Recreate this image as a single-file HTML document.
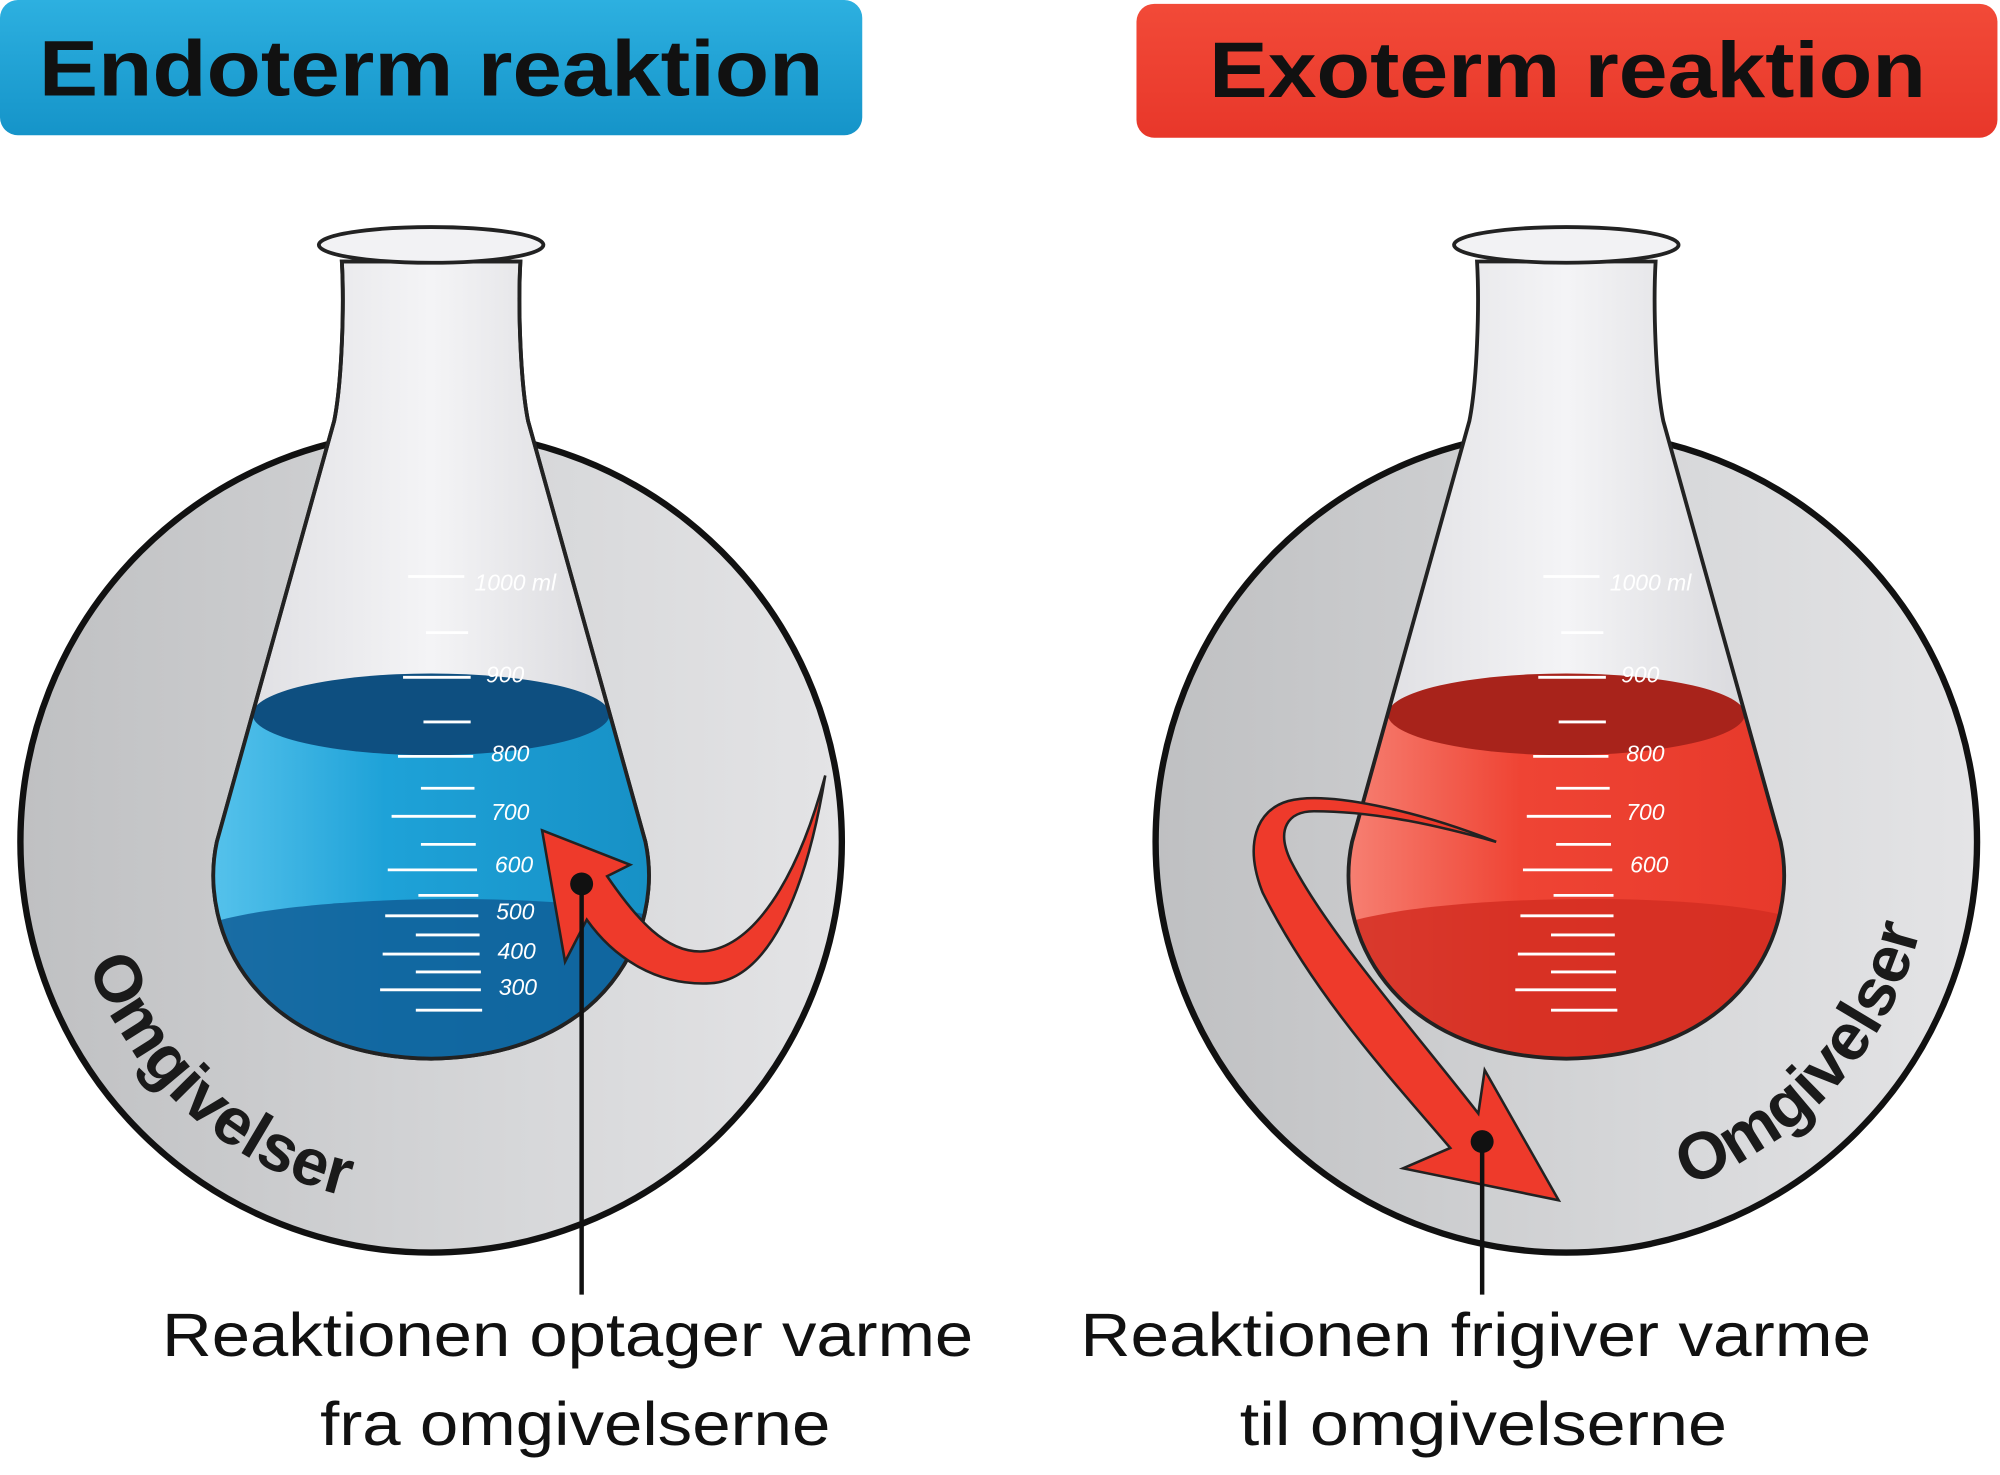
<!DOCTYPE html>
<html><head><meta charset="utf-8"><style>
html,body{margin:0;padding:0;background:#fff;}
svg{display:block;}
text{font-family:"Liberation Sans",sans-serif;}
</style></head><body>
<svg width="2000" height="1475" viewBox="0 0 1568 1156.4" xmlns="http://www.w3.org/2000/svg">
<defs>
<linearGradient id="bh" x1="0" y1="0" x2="0" y2="1"><stop offset="0" stop-color="#2db0e0"/><stop offset="1" stop-color="#1594c9"/></linearGradient>
<linearGradient id="rh" x1="0" y1="0" x2="0" y2="1"><stop offset="0" stop-color="#f24a38"/><stop offset="1" stop-color="#e8372a"/></linearGradient>
<linearGradient id="cg" x1="0" y1="0" x2="1" y2="0"><stop offset="0" stop-color="#bfc0c2"/><stop offset="0.6" stop-color="#d6d7d9"/><stop offset="1" stop-color="#e4e4e6"/></linearGradient>
<linearGradient id="fg" x1="0" y1="0" x2="1" y2="0"><stop offset="0" stop-color="#dcdce0"/><stop offset="0.5" stop-color="#f4f4f6"/><stop offset="1" stop-color="#d4d4d8"/></linearGradient>
<linearGradient id="bl" x1="0" y1="0" x2="1" y2="0"><stop offset="0" stop-color="#5cc6ee"/><stop offset="0.4" stop-color="#1ea2d8"/><stop offset="1" stop-color="#168fc4"/></linearGradient>
<linearGradient id="rl" x1="0" y1="0" x2="1" y2="0"><stop offset="0" stop-color="#f7877a"/><stop offset="0.4" stop-color="#ef4434"/><stop offset="1" stop-color="#e6382a"/></linearGradient>
<clipPath id="fc"><path d="M268 205 C270 240 268 300 262 330 L170 660 C155 730 200 828 338 830 C476 828 521 730 506 660 L414 330 C408 300 406 240 408 205 Z"/></clipPath>
<g id="marks" stroke="#fff" stroke-width="2.2" fill="none">
<line x1="320" y1="452" x2="364" y2="452"/><line x1="334" y1="496" x2="367" y2="496"/>
<line x1="316" y1="531" x2="369" y2="531"/><line x1="332" y1="566" x2="369" y2="566"/>
<line x1="312" y1="593" x2="371" y2="593"/><line x1="330" y1="618" x2="372" y2="618"/>
<line x1="307" y1="640" x2="373" y2="640"/><line x1="330" y1="662" x2="373" y2="662"/>
<line x1="304" y1="682" x2="374" y2="682"/><line x1="328" y1="702" x2="375" y2="702"/>
<line x1="302" y1="718" x2="375" y2="718"/><line x1="326" y1="733" x2="376" y2="733"/>
<line x1="300" y1="748" x2="376" y2="748"/><line x1="326" y1="762" x2="377" y2="762"/>
<line x1="298" y1="776" x2="377" y2="776"/><line x1="326" y1="792" x2="378" y2="792"/>
</g>
<g id="labs" fill="#fff" font-size="18" font-style="italic">
<text x="372" y="463">1000 ml</text><text x="381" y="535">900</text><text x="385" y="597">800</text>
<text x="385" y="643">700</text><text x="388" y="684">600</text><text x="389" y="721">500</text>
<text x="390" y="752">400</text><text x="391" y="780">300</text>
</g>
</defs>

<rect x="0" y="0" width="676" height="106" rx="14" fill="url(#bh)"/>
<text x="338" y="75" font-size="62" font-weight="bold" text-anchor="middle" textLength="615" lengthAdjust="spacingAndGlyphs" fill="#111">Endoterm reaktion</text>
<rect x="891" y="3" width="675" height="105" rx="14" fill="url(#rh)"/>
<text x="1229" y="76" font-size="62" font-weight="bold" text-anchor="middle" textLength="562" lengthAdjust="spacingAndGlyphs" fill="#111">Exoterm reaktion</text>

<circle cx="338" cy="660" r="322" fill="url(#cg)" stroke="#111" stroke-width="5"/>
<circle cx="1228" cy="660" r="322" fill="url(#cg)" stroke="#111" stroke-width="5"/>

<path id="arcL" d="M62 733 A286 286 0 0 0 338 946" fill="none"/>
<text font-size="52" font-weight="bold" fill="#1a1a1a"><textPath href="#arcL" startOffset="24">Omgivelser</textPath></text>
<path id="arcR" d="M1302 936 A286 286 0 0 0 1514 660" fill="none"/>
<text font-size="52" font-weight="bold" fill="#1a1a1a"><textPath href="#arcR" startOffset="22">Omgivelser</textPath></text>

<g>
<path d="M268 205 C270 240 268 300 262 330 L170 660 C155 730 200 828 338 830 C476 828 521 730 506 660 L414 330 C408 300 406 240 408 205 Z" fill="url(#fg)" stroke="#222" stroke-width="3"/>
<g clip-path="url(#fc)">
<rect x="150" y="560" width="380" height="280" fill="url(#bl)"/>
<ellipse cx="338" cy="560" rx="140" ry="32" fill="#0e4f80"/>
<path d="M150 730 C200 700 470 695 530 725 L530 840 L150 840 Z" fill="#0f5e98" opacity="0.85"/>
</g>
<path d="M268 205 C270 240 268 300 262 330 L170 660 C155 730 200 828 338 830 C476 828 521 730 506 660 L414 330 C408 300 406 240 408 205 Z" fill="none" stroke="#222" stroke-width="3"/>
<ellipse cx="338" cy="192" rx="88" ry="14" fill="#f2f2f4" stroke="#222" stroke-width="3"/>
<use href="#marks"/><use href="#labs"/>
</g>

<g transform="translate(890,0)">
<path d="M268 205 C270 240 268 300 262 330 L170 660 C155 730 200 828 338 830 C476 828 521 730 506 660 L414 330 C408 300 406 240 408 205 Z" fill="url(#fg)"/>
<g clip-path="url(#fc)">
<rect x="150" y="560" width="380" height="280" fill="url(#rl)"/>
<ellipse cx="338" cy="560" rx="140" ry="32" fill="#a8231b"/>
<path d="M150 730 C200 700 470 695 530 725 L530 840 L150 840 Z" fill="#d42e22" opacity="0.85"/>
</g>
<path d="M268 205 C270 240 268 300 262 330 L170 660 C155 730 200 828 338 830 C476 828 521 730 506 660 L414 330 C408 300 406 240 408 205 Z" fill="none" stroke="#222" stroke-width="3"/>
<ellipse cx="338" cy="192" rx="88" ry="14" fill="#f2f2f4" stroke="#222" stroke-width="3"/>
<use href="#marks"/>
<g fill="#fff" font-size="18" font-style="italic">
<text x="372" y="463">1000 ml</text><text x="381" y="535">900</text><text x="385" y="597">800</text>
<text x="385" y="643">700</text><text x="388" y="684">600</text>
</g>
</g>

<path d="M425 651 L494 678 L476 687 C500 722 522 746 549 746 C590 745 625 690 647 608 C632 700 602 771 554 771 C515 772 482 752 460 721 L443 754 Z" fill="#ee3a2b" stroke="#222" stroke-width="2" stroke-linejoin="miter"/>
<line x1="456" y1="693" x2="456" y2="1015" stroke="#111" stroke-width="3.5"/>
<circle cx="456" cy="693" r="9" fill="#111"/>

<path d="M1173 660 C1110 635 1040 620 1010 628 C985 635 975 662 990 700 C1030 780 1090 845 1137 900 L1100 916 L1222 941 L1164 839 L1159 873 C1110 810 1040 730 1012 675 C1000 650 1010 636 1030 636 C1080 636 1130 648 1173 660 Z" fill="#ee3a2b" stroke="#222" stroke-width="2"/>
<line x1="1162" y1="895" x2="1162" y2="1015" stroke="#111" stroke-width="3.5"/>
<circle cx="1162" cy="895" r="9" fill="#111"/>

<g font-size="48" fill="#111" text-anchor="middle">
<text x="445" y="1063" textLength="636" lengthAdjust="spacingAndGlyphs">Reaktionen optager varme</text>
<text x="451" y="1133" textLength="400" lengthAdjust="spacingAndGlyphs">fra omgivelserne</text>
<text x="1157" y="1063" textLength="620" lengthAdjust="spacingAndGlyphs">Reaktionen frigiver varme</text>
<text x="1163" y="1133" textLength="382" lengthAdjust="spacingAndGlyphs">til omgivelserne</text>
</g>
</svg>
</body></html>
